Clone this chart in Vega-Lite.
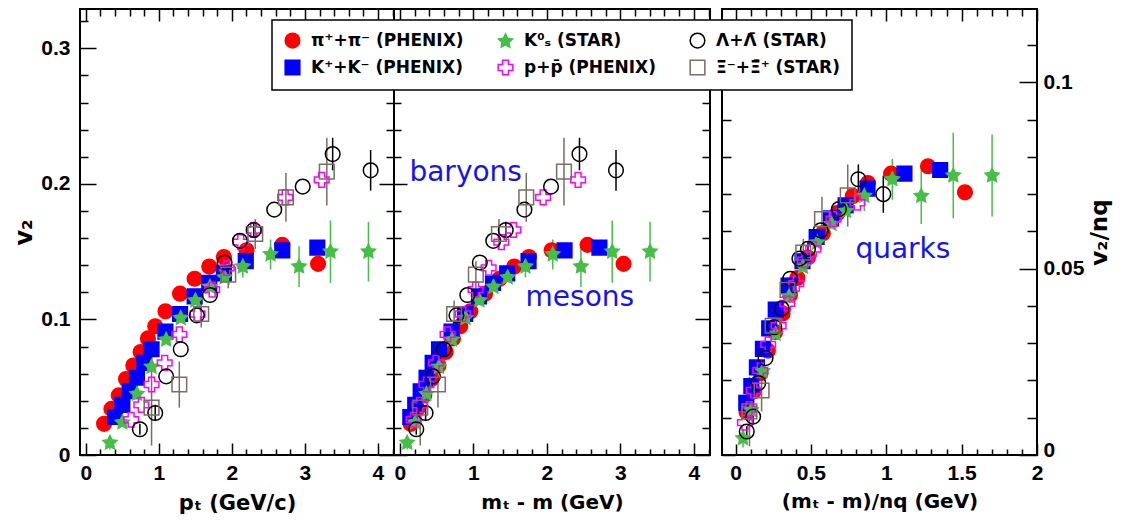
{
  "$schema": "https://vega.github.io/schema/vega-lite/v6.json",
  "padding": {"left": 11, "top": 7, "right": 5, "bottom": 5},
  "config": {
    "view": {"stroke": "black", "strokeWidth": 2},
    "axis": {"grid": false, "domain": false, "tickColor": "black", "tickWidth": 1.5, "labelFont": "Liberation Sans", "labelFontWeight": "bold", "labelFontSize": 21, "labelColor": "black", "titleFont": "DejaVu Sans", "titleFontWeight": "bold", "titleFontSize": 20, "titleColor": "black", "labelOverlap": false, "labelFlush": false, "labelBound": false},
    "legend": {"strokeWidth": 1.5}
  },
  "datasets": {
    "pts": [
      {"p":1,"s":"\u03c0\u207a+\u03c0\u207b (PHENIX)","x":0.25,"y":0.023},
      {"p":1,"s":"\u03c0\u207a+\u03c0\u207b (PHENIX)","x":0.35,"y":0.034},
      {"p":1,"s":"\u03c0\u207a+\u03c0\u207b (PHENIX)","x":0.45,"y":0.044},
      {"p":1,"s":"\u03c0\u207a+\u03c0\u207b (PHENIX)","x":0.55,"y":0.056},
      {"p":1,"s":"\u03c0\u207a+\u03c0\u207b (PHENIX)","x":0.65,"y":0.066},
      {"p":1,"s":"\u03c0\u207a+\u03c0\u207b (PHENIX)","x":0.75,"y":0.076},
      {"p":1,"s":"\u03c0\u207a+\u03c0\u207b (PHENIX)","x":0.85,"y":0.086},
      {"p":1,"s":"\u03c0\u207a+\u03c0\u207b (PHENIX)","x":0.95,"y":0.095},
      {"p":1,"s":"\u03c0\u207a+\u03c0\u207b (PHENIX)","x":1.09,"y":0.106},
      {"p":1,"s":"\u03c0\u207a+\u03c0\u207b (PHENIX)","x":1.29,"y":0.119},
      {"p":1,"s":"\u03c0\u207a+\u03c0\u207b (PHENIX)","x":1.49,"y":0.130},
      {"p":1,"s":"\u03c0\u207a+\u03c0\u207b (PHENIX)","x":1.69,"y":0.139},
      {"p":1,"s":"\u03c0\u207a+\u03c0\u207b (PHENIX)","x":1.89,"y":0.146},
      {"p":1,"s":"\u03c0\u207a+\u03c0\u207b (PHENIX)","x":2.2,"y":0.151},
      {"p":1,"s":"\u03c0\u207a+\u03c0\u207b (PHENIX)","x":2.69,"y":0.155},
      {"p":1,"s":"\u03c0\u207a+\u03c0\u207b (PHENIX)","x":3.18,"y":0.141,"lo":0.137,"hi":0.145},
      {"p":1,"s":"K\u207a+K\u207b (PHENIX)","x":0.40,"y":0.028},
      {"p":1,"s":"K\u207a+K\u207b (PHENIX)","x":0.50,"y":0.037},
      {"p":1,"s":"K\u207a+K\u207b (PHENIX)","x":0.60,"y":0.047},
      {"p":1,"s":"K\u207a+K\u207b (PHENIX)","x":0.70,"y":0.057},
      {"p":1,"s":"K\u207a+K\u207b (PHENIX)","x":0.80,"y":0.068},
      {"p":1,"s":"K\u207a+K\u207b (PHENIX)","x":0.90,"y":0.078},
      {"p":1,"s":"K\u207a+K\u207b (PHENIX)","x":1.09,"y":0.091},
      {"p":1,"s":"K\u207a+K\u207b (PHENIX)","x":1.29,"y":0.104},
      {"p":1,"s":"K\u207a+K\u207b (PHENIX)","x":1.49,"y":0.117},
      {"p":1,"s":"K\u207a+K\u207b (PHENIX)","x":1.69,"y":0.127},
      {"p":1,"s":"K\u207a+K\u207b (PHENIX)","x":1.89,"y":0.134},
      {"p":1,"s":"K\u207a+K\u207b (PHENIX)","x":2.19,"y":0.143},
      {"p":1,"s":"K\u207a+K\u207b (PHENIX)","x":2.69,"y":0.151},
      {"p":1,"s":"K\u207a+K\u207b (PHENIX)","x":3.17,"y":0.153},
      {"p":1,"s":"K\u2070\u209b (STAR)","x":0.33,"y":0.009,"lo":0.004,"hi":0.014},
      {"p":1,"s":"K\u2070\u209b (STAR)","x":0.5,"y":0.024},
      {"p":1,"s":"K\u2070\u209b (STAR)","x":0.7,"y":0.045},
      {"p":1,"s":"K\u2070\u209b (STAR)","x":0.9,"y":0.065},
      {"p":1,"s":"K\u2070\u209b (STAR)","x":1.1,"y":0.085},
      {"p":1,"s":"K\u2070\u209b (STAR)","x":1.3,"y":0.101},
      {"p":1,"s":"K\u2070\u209b (STAR)","x":1.5,"y":0.114},
      {"p":1,"s":"K\u2070\u209b (STAR)","x":1.7,"y":0.124},
      {"p":1,"s":"K\u2070\u209b (STAR)","x":1.9,"y":0.131},
      {"p":1,"s":"K\u2070\u209b (STAR)","x":2.15,"y":0.139,"lo":0.131,"hi":0.147},
      {"p":1,"s":"K\u2070\u209b (STAR)","x":2.53,"y":0.148,"lo":0.137,"hi":0.159},
      {"p":1,"s":"K\u2070\u209b (STAR)","x":2.92,"y":0.139,"lo":0.124,"hi":0.154},
      {"p":1,"s":"K\u2070\u209b (STAR)","x":3.35,"y":0.150,"lo":0.127,"hi":0.173},
      {"p":1,"s":"K\u2070\u209b (STAR)","x":3.87,"y":0.150,"lo":0.128,"hi":0.172},
      {"p":1,"s":"p+p\u0304 (PHENIX)","x":0.62,"y":0.026},
      {"p":1,"s":"p+p\u0304 (PHENIX)","x":0.76,"y":0.037},
      {"p":1,"s":"p+p\u0304 (PHENIX)","x":0.90,"y":0.052},
      {"p":1,"s":"p+p\u0304 (PHENIX)","x":1.08,"y":0.068},
      {"p":1,"s":"p+p\u0304 (PHENIX)","x":1.28,"y":0.089},
      {"p":1,"s":"p+p\u0304 (PHENIX)","x":1.53,"y":0.104},
      {"p":1,"s":"p+p\u0304 (PHENIX)","x":1.73,"y":0.122},
      {"p":1,"s":"p+p\u0304 (PHENIX)","x":1.93,"y":0.138},
      {"p":1,"s":"p+p\u0304 (PHENIX)","x":2.12,"y":0.157},
      {"p":1,"s":"p+p\u0304 (PHENIX)","x":2.3,"y":0.166},
      {"p":1,"s":"p+p\u0304 (PHENIX)","x":2.73,"y":0.190},
      {"p":1,"s":"p+p\u0304 (PHENIX)","x":3.23,"y":0.203},
      {"p":1,"s":"\u039b+\u039b\u0304 (STAR)","x":0.74,"y":0.019,"lo":0.015,"hi":0.023},
      {"p":1,"s":"\u039b+\u039b\u0304 (STAR)","x":0.95,"y":0.031,"lo":0.025,"hi":0.037},
      {"p":1,"s":"\u039b+\u039b\u0304 (STAR)","x":1.1,"y":0.058},
      {"p":1,"s":"\u039b+\u039b\u0304 (STAR)","x":1.3,"y":0.078},
      {"p":1,"s":"\u039b+\u039b\u0304 (STAR)","x":1.52,"y":0.103},
      {"p":1,"s":"\u039b+\u039b\u0304 (STAR)","x":1.7,"y":0.118},
      {"p":1,"s":"\u039b+\u039b\u0304 (STAR)","x":1.9,"y":0.142},
      {"p":1,"s":"\u039b+\u039b\u0304 (STAR)","x":2.11,"y":0.158},
      {"p":1,"s":"\u039b+\u039b\u0304 (STAR)","x":2.3,"y":0.166,"lo":0.160,"hi":0.172},
      {"p":1,"s":"\u039b+\u039b\u0304 (STAR)","x":2.58,"y":0.181},
      {"p":1,"s":"\u039b+\u039b\u0304 (STAR)","x":2.97,"y":0.198},
      {"p":1,"s":"\u039b+\u039b\u0304 (STAR)","x":3.38,"y":0.222,"lo":0.210,"hi":0.234},
      {"p":1,"s":"\u039b+\u039b\u0304 (STAR)","x":3.9,"y":0.210,"lo":0.195,"hi":0.225},
      {"p":1,"s":"\u039e\u207b+\u039e\u0304\u207a (STAR)","x":0.9,"y":0.035,"lo":0.007,"hi":0.063},
      {"p":1,"s":"\u039e\u207b+\u039e\u0304\u207a (STAR)","x":1.28,"y":0.052,"lo":0.035,"hi":0.069},
      {"p":1,"s":"\u039e\u207b+\u039e\u0304\u207a (STAR)","x":1.58,"y":0.104,"lo":0.094,"hi":0.114},
      {"p":1,"s":"\u039e\u207b+\u039e\u0304\u207a (STAR)","x":1.95,"y":0.133,"lo":0.123,"hi":0.143},
      {"p":1,"s":"\u039e\u207b+\u039e\u0304\u207a (STAR)","x":2.32,"y":0.163,"lo":0.152,"hi":0.174},
      {"p":1,"s":"\u039e\u207b+\u039e\u0304\u207a (STAR)","x":2.74,"y":0.190,"lo":0.172,"hi":0.208},
      {"p":1,"s":"\u039e\u207b+\u039e\u0304\u207a (STAR)","x":3.3,"y":0.209,"lo":0.184,"hi":0.234},

      {"p":2,"s":"\u03c0\u207a+\u03c0\u207b (PHENIX)","x":0.147,"y":0.023},
      {"p":2,"s":"\u03c0\u207a+\u03c0\u207b (PHENIX)","x":0.237,"y":0.034},
      {"p":2,"s":"\u03c0\u207a+\u03c0\u207b (PHENIX)","x":0.332,"y":0.044},
      {"p":2,"s":"\u03c0\u207a+\u03c0\u207b (PHENIX)","x":0.428,"y":0.056},
      {"p":2,"s":"\u03c0\u207a+\u03c0\u207b (PHENIX)","x":0.525,"y":0.066},
      {"p":2,"s":"\u03c0\u207a+\u03c0\u207b (PHENIX)","x":0.623,"y":0.076},
      {"p":2,"s":"\u03c0\u207a+\u03c0\u207b (PHENIX)","x":0.722,"y":0.086},
      {"p":2,"s":"\u03c0\u207a+\u03c0\u207b (PHENIX)","x":0.821,"y":0.095},
      {"p":2,"s":"\u03c0\u207a+\u03c0\u207b (PHENIX)","x":0.959,"y":0.106},
      {"p":2,"s":"\u03c0\u207a+\u03c0\u207b (PHENIX)","x":1.158,"y":0.119},
      {"p":2,"s":"\u03c0\u207a+\u03c0\u207b (PHENIX)","x":1.357,"y":0.130},
      {"p":2,"s":"\u03c0\u207a+\u03c0\u207b (PHENIX)","x":1.556,"y":0.139},
      {"p":2,"s":"\u03c0\u207a+\u03c0\u207b (PHENIX)","x":1.756,"y":0.146},
      {"p":2,"s":"\u03c0\u207a+\u03c0\u207b (PHENIX)","x":2.065,"y":0.151},
      {"p":2,"s":"\u03c0\u207a+\u03c0\u207b (PHENIX)","x":2.554,"y":0.155},
      {"p":2,"s":"\u03c0\u207a+\u03c0\u207b (PHENIX)","x":3.044,"y":0.141,"lo":0.137,"hi":0.145},
      {"p":2,"s":"K\u207a+K\u207b (PHENIX)","x":0.142,"y":0.028},
      {"p":2,"s":"K\u207a+K\u207b (PHENIX)","x":0.209,"y":0.037},
      {"p":2,"s":"K\u207a+K\u207b (PHENIX)","x":0.283,"y":0.047},
      {"p":2,"s":"K\u207a+K\u207b (PHENIX)","x":0.363,"y":0.057},
      {"p":2,"s":"K\u207a+K\u207b (PHENIX)","x":0.446,"y":0.068},
      {"p":2,"s":"K\u207a+K\u207b (PHENIX)","x":0.533,"y":0.078},
      {"p":2,"s":"K\u207a+K\u207b (PHENIX)","x":0.703,"y":0.091},
      {"p":2,"s":"K\u207a+K\u207b (PHENIX)","x":0.888,"y":0.104},
      {"p":2,"s":"K\u207a+K\u207b (PHENIX)","x":1.076,"y":0.117},
      {"p":2,"s":"K\u207a+K\u207b (PHENIX)","x":1.267,"y":0.127},
      {"p":2,"s":"K\u207a+K\u207b (PHENIX)","x":1.460,"y":0.134},
      {"p":2,"s":"K\u207a+K\u207b (PHENIX)","x":1.751,"y":0.143},
      {"p":2,"s":"K\u207a+K\u207b (PHENIX)","x":2.241,"y":0.151},
      {"p":2,"s":"K\u207a+K\u207b (PHENIX)","x":2.715,"y":0.153},
      {"p":2,"s":"K\u2070\u209b (STAR)","x":0.099,"y":0.009,"lo":0.004,"hi":0.014},
      {"p":2,"s":"K\u2070\u209b (STAR)","x":0.208,"y":0.024},
      {"p":2,"s":"K\u2070\u209b (STAR)","x":0.361,"y":0.045},
      {"p":2,"s":"K\u2070\u209b (STAR)","x":0.531,"y":0.065},
      {"p":2,"s":"K\u2070\u209b (STAR)","x":0.710,"y":0.085},
      {"p":2,"s":"K\u2070\u209b (STAR)","x":0.894,"y":0.101},
      {"p":2,"s":"K\u2070\u209b (STAR)","x":1.083,"y":0.114},
      {"p":2,"s":"K\u2070\u209b (STAR)","x":1.274,"y":0.124},
      {"p":2,"s":"K\u2070\u209b (STAR)","x":1.467,"y":0.131},
      {"p":2,"s":"K\u2070\u209b (STAR)","x":1.709,"y":0.139,"lo":0.131,"hi":0.147},
      {"p":2,"s":"K\u2070\u209b (STAR)","x":2.080,"y":0.148,"lo":0.137,"hi":0.159},
      {"p":2,"s":"K\u2070\u209b (STAR)","x":2.464,"y":0.139,"lo":0.124,"hi":0.154},
      {"p":2,"s":"K\u2070\u209b (STAR)","x":2.889,"y":0.150,"lo":0.127,"hi":0.173},
      {"p":2,"s":"K\u2070\u209b (STAR)","x":3.404,"y":0.150,"lo":0.128,"hi":0.172},
      {"p":2,"s":"p+p\u0304 (PHENIX)","x":0.186,"y":0.026},
      {"p":2,"s":"p+p\u0304 (PHENIX)","x":0.269,"y":0.037},
      {"p":2,"s":"p+p\u0304 (PHENIX)","x":0.362,"y":0.052},
      {"p":2,"s":"p+p\u0304 (PHENIX)","x":0.492,"y":0.068},
      {"p":2,"s":"p+p\u0304 (PHENIX)","x":0.649,"y":0.089},
      {"p":2,"s":"p+p\u0304 (PHENIX)","x":0.857,"y":0.104},
      {"p":2,"s":"p+p\u0304 (PHENIX)","x":1.030,"y":0.122},
      {"p":2,"s":"p+p\u0304 (PHENIX)","x":1.208,"y":0.138},
      {"p":2,"s":"p+p\u0304 (PHENIX)","x":1.380,"y":0.157},
      {"p":2,"s":"p+p\u0304 (PHENIX)","x":1.546,"y":0.166},
      {"p":2,"s":"p+p\u0304 (PHENIX)","x":1.949,"y":0.190},
      {"p":2,"s":"p+p\u0304 (PHENIX)","x":2.425,"y":0.203},
      {"p":2,"s":"\u039b+\u039b\u0304 (STAR)","x":0.223,"y":0.019,"lo":0.015,"hi":0.023},
      {"p":2,"s":"\u039b+\u039b\u0304 (STAR)","x":0.350,"y":0.031,"lo":0.025,"hi":0.037},
      {"p":2,"s":"\u039b+\u039b\u0304 (STAR)","x":0.451,"y":0.058},
      {"p":2,"s":"\u039b+\u039b\u0304 (STAR)","x":0.597,"y":0.078},
      {"p":2,"s":"\u039b+\u039b\u0304 (STAR)","x":0.770,"y":0.103},
      {"p":2,"s":"\u039b+\u039b\u0304 (STAR)","x":0.918,"y":0.118},
      {"p":2,"s":"\u039b+\u039b\u0304 (STAR)","x":1.088,"y":0.142},
      {"p":2,"s":"\u039b+\u039b\u0304 (STAR)","x":1.271,"y":0.158},
      {"p":2,"s":"\u039b+\u039b\u0304 (STAR)","x":1.441,"y":0.166,"lo":0.160,"hi":0.172},
      {"p":2,"s":"\u039b+\u039b\u0304 (STAR)","x":1.695,"y":0.181},
      {"p":2,"s":"\u039b+\u039b\u0304 (STAR)","x":2.057,"y":0.198},
      {"p":2,"s":"\u039b+\u039b\u0304 (STAR)","x":2.444,"y":0.222,"lo":0.210,"hi":0.234},
      {"p":2,"s":"\u039b+\u039b\u0304 (STAR)","x":2.941,"y":0.210,"lo":0.195,"hi":0.225},
      {"p":2,"s":"\u039e\u207b+\u039e\u0304\u207a (STAR)","x":0.277,"y":0.035,"lo":0.007,"hi":0.063},
      {"p":2,"s":"\u039e\u207b+\u039e\u0304\u207a (STAR)","x":0.518,"y":0.052,"lo":0.035,"hi":0.069},
      {"p":2,"s":"\u039e\u207b+\u039e\u0304\u207a (STAR)","x":0.738,"y":0.104,"lo":0.094,"hi":0.114},
      {"p":2,"s":"\u039e\u207b+\u039e\u0304\u207a (STAR)","x":1.034,"y":0.133,"lo":0.123,"hi":0.143},
      {"p":2,"s":"\u039e\u207b+\u039e\u0304\u207a (STAR)","x":1.348,"y":0.163,"lo":0.152,"hi":0.174},
      {"p":2,"s":"\u039e\u207b+\u039e\u0304\u207a (STAR)","x":1.720,"y":0.190,"lo":0.172,"hi":0.208},
      {"p":2,"s":"\u039e\u207b+\u039e\u0304\u207a (STAR)","x":2.233,"y":0.209,"lo":0.184,"hi":0.234},

      {"p":3,"s":"\u03c0\u207a+\u03c0\u207b (PHENIX)","x":0.073,"y":0.0115},
      {"p":3,"s":"\u03c0\u207a+\u03c0\u207b (PHENIX)","x":0.118,"y":0.017},
      {"p":3,"s":"\u03c0\u207a+\u03c0\u207b (PHENIX)","x":0.166,"y":0.022},
      {"p":3,"s":"\u03c0\u207a+\u03c0\u207b (PHENIX)","x":0.214,"y":0.028},
      {"p":3,"s":"\u03c0\u207a+\u03c0\u207b (PHENIX)","x":0.263,"y":0.033},
      {"p":3,"s":"\u03c0\u207a+\u03c0\u207b (PHENIX)","x":0.312,"y":0.038},
      {"p":3,"s":"\u03c0\u207a+\u03c0\u207b (PHENIX)","x":0.361,"y":0.043},
      {"p":3,"s":"\u03c0\u207a+\u03c0\u207b (PHENIX)","x":0.41,"y":0.0475},
      {"p":3,"s":"\u03c0\u207a+\u03c0\u207b (PHENIX)","x":0.48,"y":0.053},
      {"p":3,"s":"\u03c0\u207a+\u03c0\u207b (PHENIX)","x":0.579,"y":0.0595},
      {"p":3,"s":"\u03c0\u207a+\u03c0\u207b (PHENIX)","x":0.678,"y":0.065},
      {"p":3,"s":"\u03c0\u207a+\u03c0\u207b (PHENIX)","x":0.778,"y":0.0695},
      {"p":3,"s":"\u03c0\u207a+\u03c0\u207b (PHENIX)","x":0.878,"y":0.073},
      {"p":3,"s":"\u03c0\u207a+\u03c0\u207b (PHENIX)","x":1.032,"y":0.0755},
      {"p":3,"s":"\u03c0\u207a+\u03c0\u207b (PHENIX)","x":1.277,"y":0.0775},
      {"p":3,"s":"\u03c0\u207a+\u03c0\u207b (PHENIX)","x":1.522,"y":0.0705,"lo":0.0685,"hi":0.0725},
      {"p":3,"s":"K\u207a+K\u207b (PHENIX)","x":0.071,"y":0.014},
      {"p":3,"s":"K\u207a+K\u207b (PHENIX)","x":0.1045,"y":0.0185},
      {"p":3,"s":"K\u207a+K\u207b (PHENIX)","x":0.1415,"y":0.0235},
      {"p":3,"s":"K\u207a+K\u207b (PHENIX)","x":0.1815,"y":0.0285},
      {"p":3,"s":"K\u207a+K\u207b (PHENIX)","x":0.223,"y":0.034},
      {"p":3,"s":"K\u207a+K\u207b (PHENIX)","x":0.2665,"y":0.039},
      {"p":3,"s":"K\u207a+K\u207b (PHENIX)","x":0.3515,"y":0.0455},
      {"p":3,"s":"K\u207a+K\u207b (PHENIX)","x":0.444,"y":0.052},
      {"p":3,"s":"K\u207a+K\u207b (PHENIX)","x":0.538,"y":0.0585},
      {"p":3,"s":"K\u207a+K\u207b (PHENIX)","x":0.6335,"y":0.0635},
      {"p":3,"s":"K\u207a+K\u207b (PHENIX)","x":0.73,"y":0.067},
      {"p":3,"s":"K\u207a+K\u207b (PHENIX)","x":0.8755,"y":0.0715},
      {"p":3,"s":"K\u207a+K\u207b (PHENIX)","x":1.1205,"y":0.0755},
      {"p":3,"s":"K\u207a+K\u207b (PHENIX)","x":1.3575,"y":0.0765},
      {"p":3,"s":"K\u2070\u209b (STAR)","x":0.0495,"y":0.0045,"lo":0.002,"hi":0.007},
      {"p":3,"s":"K\u2070\u209b (STAR)","x":0.104,"y":0.012},
      {"p":3,"s":"K\u2070\u209b (STAR)","x":0.1805,"y":0.0225},
      {"p":3,"s":"K\u2070\u209b (STAR)","x":0.2655,"y":0.0325},
      {"p":3,"s":"K\u2070\u209b (STAR)","x":0.355,"y":0.0425},
      {"p":3,"s":"K\u2070\u209b (STAR)","x":0.447,"y":0.0505},
      {"p":3,"s":"K\u2070\u209b (STAR)","x":0.5415,"y":0.057},
      {"p":3,"s":"K\u2070\u209b (STAR)","x":0.637,"y":0.062},
      {"p":3,"s":"K\u2070\u209b (STAR)","x":0.7335,"y":0.0655},
      {"p":3,"s":"K\u2070\u209b (STAR)","x":0.8545,"y":0.0695,"lo":0.0655,"hi":0.0735},
      {"p":3,"s":"K\u2070\u209b (STAR)","x":1.04,"y":0.074,"lo":0.0685,"hi":0.0795},
      {"p":3,"s":"K\u2070\u209b (STAR)","x":1.232,"y":0.0695,"lo":0.062,"hi":0.077},
      {"p":3,"s":"K\u2070\u209b (STAR)","x":1.4445,"y":0.075,"lo":0.0635,"hi":0.0865},
      {"p":3,"s":"K\u2070\u209b (STAR)","x":1.702,"y":0.075,"lo":0.064,"hi":0.086},
      {"p":3,"s":"p+p\u0304 (PHENIX)","x":0.062,"y":0.0087},
      {"p":3,"s":"p+p\u0304 (PHENIX)","x":0.0897,"y":0.0123},
      {"p":3,"s":"p+p\u0304 (PHENIX)","x":0.1207,"y":0.0173},
      {"p":3,"s":"p+p\u0304 (PHENIX)","x":0.164,"y":0.0227},
      {"p":3,"s":"p+p\u0304 (PHENIX)","x":0.2163,"y":0.0297},
      {"p":3,"s":"p+p\u0304 (PHENIX)","x":0.2857,"y":0.0347},
      {"p":3,"s":"p+p\u0304 (PHENIX)","x":0.3433,"y":0.0407},
      {"p":3,"s":"p+p\u0304 (PHENIX)","x":0.4027,"y":0.046},
      {"p":3,"s":"p+p\u0304 (PHENIX)","x":0.46,"y":0.0523},
      {"p":3,"s":"p+p\u0304 (PHENIX)","x":0.5153,"y":0.0553},
      {"p":3,"s":"p+p\u0304 (PHENIX)","x":0.6497,"y":0.0633},
      {"p":3,"s":"p+p\u0304 (PHENIX)","x":0.8083,"y":0.0677},
      {"p":3,"s":"\u039b+\u039b\u0304 (STAR)","x":0.0743,"y":0.0063,"lo":0.005,"hi":0.0077},
      {"p":3,"s":"\u039b+\u039b\u0304 (STAR)","x":0.1167,"y":0.0103,"lo":0.0083,"hi":0.0123},
      {"p":3,"s":"\u039b+\u039b\u0304 (STAR)","x":0.1503,"y":0.0193},
      {"p":3,"s":"\u039b+\u039b\u0304 (STAR)","x":0.199,"y":0.026},
      {"p":3,"s":"\u039b+\u039b\u0304 (STAR)","x":0.2567,"y":0.0343},
      {"p":3,"s":"\u039b+\u039b\u0304 (STAR)","x":0.306,"y":0.0393},
      {"p":3,"s":"\u039b+\u039b\u0304 (STAR)","x":0.3627,"y":0.0473},
      {"p":3,"s":"\u039b+\u039b\u0304 (STAR)","x":0.4237,"y":0.0527},
      {"p":3,"s":"\u039b+\u039b\u0304 (STAR)","x":0.4803,"y":0.0553,"lo":0.0533,"hi":0.0573},
      {"p":3,"s":"\u039b+\u039b\u0304 (STAR)","x":0.565,"y":0.0603},
      {"p":3,"s":"\u039b+\u039b\u0304 (STAR)","x":0.6857,"y":0.066},
      {"p":3,"s":"\u039b+\u039b\u0304 (STAR)","x":0.8147,"y":0.074,"lo":0.07,"hi":0.078},
      {"p":3,"s":"\u039b+\u039b\u0304 (STAR)","x":0.9803,"y":0.07,"lo":0.065,"hi":0.075},
      {"p":3,"s":"\u039e\u207b+\u039e\u0304\u207a (STAR)","x":0.0923,"y":0.0117,"lo":0.0023,"hi":0.021},
      {"p":3,"s":"\u039e\u207b+\u039e\u0304\u207a (STAR)","x":0.1727,"y":0.0173,"lo":0.0117,"hi":0.023},
      {"p":3,"s":"\u039e\u207b+\u039e\u0304\u207a (STAR)","x":0.246,"y":0.0347,"lo":0.0313,"hi":0.038},
      {"p":3,"s":"\u039e\u207b+\u039e\u0304\u207a (STAR)","x":0.3447,"y":0.0443,"lo":0.041,"hi":0.0477},
      {"p":3,"s":"\u039e\u207b+\u039e\u0304\u207a (STAR)","x":0.4493,"y":0.0543,"lo":0.0507,"hi":0.058},
      {"p":3,"s":"\u039e\u207b+\u039e\u0304\u207a (STAR)","x":0.5733,"y":0.0633,"lo":0.0573,"hi":0.0693},
      {"p":3,"s":"\u039e\u207b+\u039e\u0304\u207a (STAR)","x":0.7443,"y":0.0697,"lo":0.0613,"hi":0.078}
    ],
    "notes": [
      {"p":2,"t":"baryons","x":0.13,"y":0.202},
      {"p":2,"t":"mesons","x":1.71,"y":0.1097},
      {"p":3,"t":"quarks","x":0.795,"y":0.0528}
    ]
  },
  "bounds": "full",
  "spacing": 8,
  "hconcat": [
    {
      "bounds": "flush",
      "spacing": 0,
      "hconcat": [
        {
          "width": 314, "height": 446,
          "data": {"name": "pts"},
          "transform": [{"filter": "datum.p == 1"}],
          "layer": [
            {
              "transform": [{"filter": "isValid(datum.lo)"}],
              "mark": {"type": "rule", "strokeWidth": 1.5},
              "encoding": {
                "x": {"field": "x", "type": "quantitative", "scale": {"domain": [-0.08, 4.22], "nice": false, "zero": false},
                  "axis": {"orient": "top", "values": [0,0.2,0.4,0.6,0.8,1,1.2,1.4,1.6,1.8,2,2.2,2.4,2.6,2.8,3,3.2,3.4,3.6,3.8,4,4.2], "labels": false, "title": null,
                    "tickSize": {"condition": {"test": "abs(datum.value - round(datum.value)) < 0.001", "value": -12}, "value": -7}}},
                "y": {"field": "lo", "type": "quantitative", "scale": {"domain": [0, 0.329], "nice": false, "zero": false},
                  "axis": {"orient": "right", "values": [0,0.02,0.04,0.06,0.08,0.1,0.12,0.14,0.16,0.18,0.2,0.22,0.24,0.26,0.28,0.3,0.32], "labels": false, "title": null,
                    "tickSize": {"condition": {"test": "abs(datum.value*10 - round(datum.value*10)) < 0.001", "value": -15}, "value": -8}}},
                "y2": {"field": "hi"},
                "stroke": {"field": "s", "type": "nominal",
                  "scale": {"domain": ["\u03c0\u207a+\u03c0\u207b (PHENIX)","K\u207a+K\u207b (PHENIX)","K\u2070\u209b (STAR)","p+p\u0304 (PHENIX)","\u039b+\u039b\u0304 (STAR)","\u039e\u207b+\u039e\u0304\u207a (STAR)"],
                    "range": ["#ff0000","#0000ff","#45bf45","#ff00ff","#000000","#7a6c62"]}}
              }
            },
            {
              "mark": {"type": "point", "opacity": 1, "size": 215, "strokeWidth": 1.5},
              "encoding": {
                "x": {"field": "x", "type": "quantitative",
                  "axis": {"orient": "bottom", "values": [0,0.2,0.4,0.6,0.8,1,1.2,1.4,1.6,1.8,2,2.2,2.4,2.6,2.8,3,3.2,3.4,3.6,3.8,4,4.2],
                    "tickSize": {"condition": {"test": "abs(datum.value - round(datum.value)) < 0.001", "value": -12}, "value": -6},
                    "labelExpr": "abs(datum.value - round(datum.value)) < 0.001 ? format(datum.value, '~g') : ''",
                    "labelPadding": 19, "title": "p\u209c (GeV/c)", "titleFontSize": 21, "titlePadding": 3}},
                "y": {"field": "y", "type": "quantitative",
                  "axis": {"orient": "left", "values": [0,0.02,0.04,0.06,0.08,0.1,0.12,0.14,0.16,0.18,0.2,0.22,0.24,0.26,0.28,0.3,0.32],
                    "tickSize": {"condition": {"test": "abs(datum.value*10 - round(datum.value*10)) < 0.001", "value": -16}, "value": -8},
                    "labelExpr": "abs(datum.value*10 - round(datum.value*10)) < 0.001 ? format(datum.value, '~g') : ''",
                    "labelPadding": 26, "title": "v\u2082", "titleFontSize": 24, "titlePadding": 4}},
                "fill": {"field": "s", "type": "nominal",
                  "scale": {"domain": ["\u03c0\u207a+\u03c0\u207b (PHENIX)","K\u207a+K\u207b (PHENIX)","K\u2070\u209b (STAR)","p+p\u0304 (PHENIX)","\u039b+\u039b\u0304 (STAR)","\u039e\u207b+\u039e\u0304\u207a (STAR)"],
                    "range": ["#ff0000","#0000ff","#45bf45","transparent","transparent","transparent"]},
                  "legend": {"orient": "none", "legendX": 192, "legendY": 11, "columns": 3, "title": null, "labelFont": "DejaVu Sans", "labelFontWeight": "bold", "labelFontSize": 17, "labelColor": "black", "labelLimit": 400, "symbolSize": 215, "symbolStrokeWidth": 1.5, "strokeColor": "black", "fillColor": "white", "padding": 12, "rowPadding": 6, "columnPadding": 31, "labelOffset": 10, "zindex": 1}},
                "stroke": {"field": "s", "type": "nominal",
                  "scale": {"domain": ["\u03c0\u207a+\u03c0\u207b (PHENIX)","K\u207a+K\u207b (PHENIX)","K\u2070\u209b (STAR)","p+p\u0304 (PHENIX)","\u039b+\u039b\u0304 (STAR)","\u039e\u207b+\u039e\u0304\u207a (STAR)"],
                    "range": ["#ff0000","#0000ff","#45bf45","#ff00ff","#000000","#7a6c62"]},
                  "legend": {"orient": "none", "legendX": 192, "legendY": 11, "columns": 3, "title": null, "labelFont": "DejaVu Sans", "labelFontWeight": "bold", "labelFontSize": 17, "labelColor": "black", "labelLimit": 400, "symbolSize": 215, "symbolStrokeWidth": 1.5, "strokeColor": "black", "fillColor": "white", "padding": 12, "rowPadding": 6, "columnPadding": 31, "labelOffset": 10, "zindex": 1}},
                "shape": {"field": "s", "type": "nominal",
                  "scale": {"domain": ["\u03c0\u207a+\u03c0\u207b (PHENIX)","K\u207a+K\u207b (PHENIX)","K\u2070\u209b (STAR)","p+p\u0304 (PHENIX)","\u039b+\u039b\u0304 (STAR)","\u039e\u207b+\u039e\u0304\u207a (STAR)"],
                    "range": ["circle","square","M0,-1L0.294,-0.405L0.951,-0.309L0.476,0.155L0.588,0.809L0,0.5L-0.588,0.809L-0.476,0.155L-0.951,-0.309L-0.294,-0.405Z","cross","circle","square"]},
                  "legend": {"orient": "none", "legendX": 192, "legendY": 11, "columns": 3, "title": null, "labelFont": "DejaVu Sans", "labelFontWeight": "bold", "labelFontSize": 17, "labelColor": "black", "labelLimit": 400, "symbolSize": 215, "symbolStrokeWidth": 1.5, "strokeColor": "black", "fillColor": "white", "padding": 12, "rowPadding": 6, "columnPadding": 31, "labelOffset": 10, "zindex": 1}}
              }
            }
          ],
          "resolve": {"axis": {"x": "independent", "y": "independent"}}
        },
        {
          "width": 316, "height": 446,
          "layer": [
            {
              "data": {"name": "pts"},
              "transform": [{"filter": "datum.p == 2"}, {"filter": "isValid(datum.lo)"}],
              "mark": {"type": "rule", "strokeWidth": 1.5},
              "encoding": {
                "x": {"field": "x", "type": "quantitative", "scale": {"domain": [-0.08, 4.22], "nice": false, "zero": false},
                  "axis": {"orient": "top", "values": [0,0.2,0.4,0.6,0.8,1,1.2,1.4,1.6,1.8,2,2.2,2.4,2.6,2.8,3,3.2,3.4,3.6,3.8,4,4.2], "labels": false, "title": null,
                    "tickSize": {"condition": {"test": "abs(datum.value - round(datum.value)) < 0.001", "value": -12}, "value": -7}}},
                "y": {"field": "lo", "type": "quantitative", "scale": {"domain": [0, 0.329], "nice": false, "zero": false},
                  "axis": {"orient": "right", "values": [0,0.02,0.04,0.06,0.08,0.1,0.12,0.14,0.16,0.18,0.2,0.22,0.24,0.26,0.28,0.3,0.32], "labels": false, "title": null,
                    "tickSize": {"condition": {"test": "abs(datum.value*10 - round(datum.value*10)) < 0.001", "value": -15}, "value": -8}}},
                "y2": {"field": "hi"},
                "stroke": {"field": "s", "type": "nominal",
                  "scale": {"domain": ["\u03c0\u207a+\u03c0\u207b (PHENIX)","K\u207a+K\u207b (PHENIX)","K\u2070\u209b (STAR)","p+p\u0304 (PHENIX)","\u039b+\u039b\u0304 (STAR)","\u039e\u207b+\u039e\u0304\u207a (STAR)"],
                    "range": ["#ff0000","#0000ff","#45bf45","#ff00ff","#000000","#7a6c62"]}}
              }
            },
            {
              "data": {"name": "pts"},
              "transform": [{"filter": "datum.p == 2"}],
              "mark": {"type": "point", "opacity": 1, "size": 215, "strokeWidth": 1.5},
              "encoding": {
                "x": {"field": "x", "type": "quantitative",
                  "axis": {"orient": "bottom", "values": [0,0.2,0.4,0.6,0.8,1,1.2,1.4,1.6,1.8,2,2.2,2.4,2.6,2.8,3,3.2,3.4,3.6,3.8,4,4.2],
                    "tickSize": {"condition": {"test": "abs(datum.value - round(datum.value)) < 0.001", "value": -12}, "value": -6},
                    "labelExpr": "abs(datum.value - round(datum.value)) < 0.001 ? format(datum.value, '~g') : ''",
                    "labelPadding": 19, "title": "m\u209c - m (GeV)", "titlePadding": 3}},
                "y": {"field": "y", "type": "quantitative",
                  "axis": {"orient": "left", "values": [0,0.02,0.04,0.06,0.08,0.1,0.12,0.14,0.16,0.18,0.2,0.22,0.24,0.26,0.28,0.3,0.32],
                    "tickSize": {"condition": {"test": "abs(datum.value*10 - round(datum.value*10)) < 0.001", "value": -13}, "value": -7},
                    "labels": false, "title": null}},
                "fill": {"field": "s", "type": "nominal",
                  "scale": {"domain": ["\u03c0\u207a+\u03c0\u207b (PHENIX)","K\u207a+K\u207b (PHENIX)","K\u2070\u209b (STAR)","p+p\u0304 (PHENIX)","\u039b+\u039b\u0304 (STAR)","\u039e\u207b+\u039e\u0304\u207a (STAR)"],
                    "range": ["#ff0000","#0000ff","#45bf45","transparent","transparent","transparent"]}},
                "stroke": {"field": "s", "type": "nominal",
                  "scale": {"domain": ["\u03c0\u207a+\u03c0\u207b (PHENIX)","K\u207a+K\u207b (PHENIX)","K\u2070\u209b (STAR)","p+p\u0304 (PHENIX)","\u039b+\u039b\u0304 (STAR)","\u039e\u207b+\u039e\u0304\u207a (STAR)"],
                    "range": ["#ff0000","#0000ff","#45bf45","#ff00ff","#000000","#7a6c62"]}},
                "shape": {"field": "s", "type": "nominal",
                  "scale": {"domain": ["\u03c0\u207a+\u03c0\u207b (PHENIX)","K\u207a+K\u207b (PHENIX)","K\u2070\u209b (STAR)","p+p\u0304 (PHENIX)","\u039b+\u039b\u0304 (STAR)","\u039e\u207b+\u039e\u0304\u207a (STAR)"],
                    "range": ["circle","square","M0,-1L0.294,-0.405L0.951,-0.309L0.476,0.155L0.588,0.809L0,0.5L-0.588,0.809L-0.476,0.155L-0.951,-0.309L-0.294,-0.405Z","cross","circle","square"]}}
              }
            },
            {
              "data": {"name": "notes"},
              "transform": [{"filter": "datum.p == 2"}],
              "mark": {"type": "text", "align": "left", "baseline": "alphabetic", "font": "DejaVu Sans", "fontSize": 28, "color": "#1414f0"},
              "encoding": {
                "x": {"field": "x", "type": "quantitative", "axis": null},
                "y": {"field": "y", "type": "quantitative", "axis": null},
                "text": {"field": "t"}
              }
            }
          ],
          "resolve": {"axis": {"x": "independent", "y": "independent"}}
        }
      ]
    },
    {
      "width": 315, "height": 446,
      "layer": [
        {
          "data": {"name": "pts"},
          "transform": [{"filter": "datum.p == 3"}, {"filter": "isValid(datum.lo)"}],
          "mark": {"type": "rule", "strokeWidth": 1.5},
          "encoding": {
            "x": {"field": "x", "type": "quantitative", "scale": {"domain": [-0.09, 2.0], "nice": false, "zero": false},
              "axis": {"orient": "top", "values": [0,0.1,0.2,0.3,0.4,0.5,0.6,0.7,0.8,0.9,1,1.1,1.2,1.3,1.4,1.5,1.6,1.7,1.8,1.9,2], "labels": false, "title": null,
                "tickSize": {"condition": {"test": "abs(datum.value*2 - round(datum.value*2)) < 0.001", "value": -12}, "value": -7}}},
            "y": {"field": "lo", "type": "quantitative", "scale": {"domain": [0, 0.1197], "nice": false, "zero": false},
              "axis": {"orient": "right", "values": [0,0.01,0.02,0.03,0.04,0.05,0.06,0.07,0.08,0.09,0.1,0.11],
                "tickSize": {"condition": {"test": "abs(datum.value*20 - round(datum.value*20)) < 0.001", "value": -18}, "value": -10},
                "labelExpr": "abs(datum.value*20 - round(datum.value*20)) < 0.001 ? format(datum.value, '~g') : ''",
                "labelOffset": {"condition": {"test": "datum.value == 0", "value": -5}, "value": 0},
                "labelPadding": 24, "title": "v\u2082/nq", "titleAngle": 270, "titleFontSize": 23, "titlePadding": 28}},
            "y2": {"field": "hi"},
            "stroke": {"field": "s", "type": "nominal",
              "scale": {"domain": ["\u03c0\u207a+\u03c0\u207b (PHENIX)","K\u207a+K\u207b (PHENIX)","K\u2070\u209b (STAR)","p+p\u0304 (PHENIX)","\u039b+\u039b\u0304 (STAR)","\u039e\u207b+\u039e\u0304\u207a (STAR)"],
                "range": ["#ff0000","#0000ff","#45bf45","#ff00ff","#000000","#7a6c62"]}}
          }
        },
        {
          "data": {"name": "pts"},
          "transform": [{"filter": "datum.p == 3"}],
          "mark": {"type": "point", "opacity": 1, "size": 215, "strokeWidth": 1.5},
          "encoding": {
            "x": {"field": "x", "type": "quantitative",
              "axis": {"orient": "bottom", "values": [0,0.1,0.2,0.3,0.4,0.5,0.6,0.7,0.8,0.9,1,1.1,1.2,1.3,1.4,1.5,1.6,1.7,1.8,1.9,2],
                "tickSize": {"condition": {"test": "abs(datum.value*2 - round(datum.value*2)) < 0.001", "value": -11}, "value": -6},
                "labelExpr": "abs(datum.value*2 - round(datum.value*2)) < 0.001 ? format(datum.value, '~g') : ''",
                "labelPadding": 18, "title": "(m\u209c - m)/nq (GeV)", "titlePadding": 3}},
            "y": {"field": "y", "type": "quantitative",
              "axis": {"orient": "left", "values": [0,0.01,0.02,0.03,0.04,0.05,0.06,0.07,0.08,0.09,0.1,0.11],
                "tickSize": {"condition": {"test": "abs(datum.value*20 - round(datum.value*20)) < 0.001", "value": -13}, "value": -9},
                "labels": false, "title": null}},
            "fill": {"field": "s", "type": "nominal",
              "scale": {"domain": ["\u03c0\u207a+\u03c0\u207b (PHENIX)","K\u207a+K\u207b (PHENIX)","K\u2070\u209b (STAR)","p+p\u0304 (PHENIX)","\u039b+\u039b\u0304 (STAR)","\u039e\u207b+\u039e\u0304\u207a (STAR)"],
                "range": ["#ff0000","#0000ff","#45bf45","transparent","transparent","transparent"]}},
            "stroke": {"field": "s", "type": "nominal",
              "scale": {"domain": ["\u03c0\u207a+\u03c0\u207b (PHENIX)","K\u207a+K\u207b (PHENIX)","K\u2070\u209b (STAR)","p+p\u0304 (PHENIX)","\u039b+\u039b\u0304 (STAR)","\u039e\u207b+\u039e\u0304\u207a (STAR)"],
                "range": ["#ff0000","#0000ff","#45bf45","#ff00ff","#000000","#7a6c62"]}},
            "shape": {"field": "s", "type": "nominal",
              "scale": {"domain": ["\u03c0\u207a+\u03c0\u207b (PHENIX)","K\u207a+K\u207b (PHENIX)","K\u2070\u209b (STAR)","p+p\u0304 (PHENIX)","\u039b+\u039b\u0304 (STAR)","\u039e\u207b+\u039e\u0304\u207a (STAR)"],
                "range": ["circle","square","M0,-1L0.294,-0.405L0.951,-0.309L0.476,0.155L0.588,0.809L0,0.5L-0.588,0.809L-0.476,0.155L-0.951,-0.309L-0.294,-0.405Z","cross","circle","square"]}}
          }
        },
        {
          "data": {"name": "notes"},
          "transform": [{"filter": "datum.p == 3"}],
          "mark": {"type": "text", "align": "left", "baseline": "alphabetic", "font": "DejaVu Sans", "fontSize": 28, "color": "#1414f0"},
          "encoding": {
            "x": {"field": "x", "type": "quantitative", "axis": null},
            "y": {"field": "y", "type": "quantitative", "axis": null},
            "text": {"field": "t"}
          }
        }
      ],
      "resolve": {"axis": {"x": "independent", "y": "independent"}}
    }
  ]
}
